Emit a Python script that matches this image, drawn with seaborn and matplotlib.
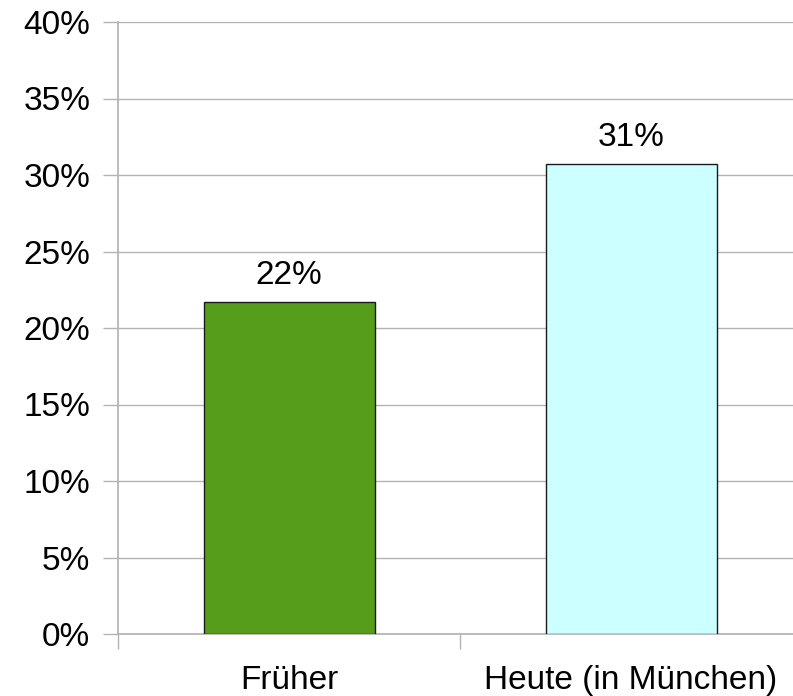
import matplotlib
matplotlib.use("Agg")
import matplotlib.pyplot as plt
import seaborn as sns
import pandas as pd
from matplotlib.ticker import FixedLocator, PercentFormatter

categories = ["Früher", "Heute (in München)"]
values = [21.7, 30.7]
labels = ["22%", "31%"]
colors = ["#579d1c", "#ccffff"]

sns.set_theme(style="white")
plt.rcParams['font.family'] = ['Liberation Sans', 'DejaVu Sans']

df = pd.DataFrame({"cat": categories, "val": values})

fig = plt.figure(figsize=(7.93, 6.96), dpi=100)
ax = fig.add_axes([118/793, 62/696, 684/793, 612/696])

sns.barplot(data=df, x="cat", y="val", hue="cat", palette=colors, legend=False,
            saturation=1, width=0.5, edgecolor="#1a1a1a", linewidth=1.0,
            ax=ax, zorder=3)

ax.set_xlim(-0.5, 1.5)
ax.set_ylim(0, 40)
ax.set_yticks(range(0, 41, 5))
ax.yaxis.set_major_formatter(PercentFormatter(decimals=0))
ax.grid(axis="y", color="#b3b3b3", linewidth=1.0, zorder=0)
ax.set_axisbelow(True)

for s in ["top", "right"]:
    ax.spines[s].set_visible(False)
ax.spines["left"].set_color("#b3b3b3")
ax.spines["bottom"].set_color("#b3b3b3")

ax.tick_params(axis="y", which="major", length=11, width=1, color="#b3b3b3",
               labelsize=24, pad=9, left=True, labelcolor="black")
ax.tick_params(axis="x", which="major", length=0, labelsize=24, pad=22,
               labelcolor="black")
ax.xaxis.set_minor_locator(FixedLocator([-0.5, 0.5, 1.5]))
ax.tick_params(axis="x", which="minor", length=10.5, width=1, color="#b3b3b3",
               bottom=True)
ax.set_xlabel("")
ax.set_ylabel("")

for cont, lab in zip(ax.containers, labels):
    ax.bar_label(cont, labels=[lab], padding=8, fontsize=24, color="black")

fig.savefig("out.png", dpi=100)
